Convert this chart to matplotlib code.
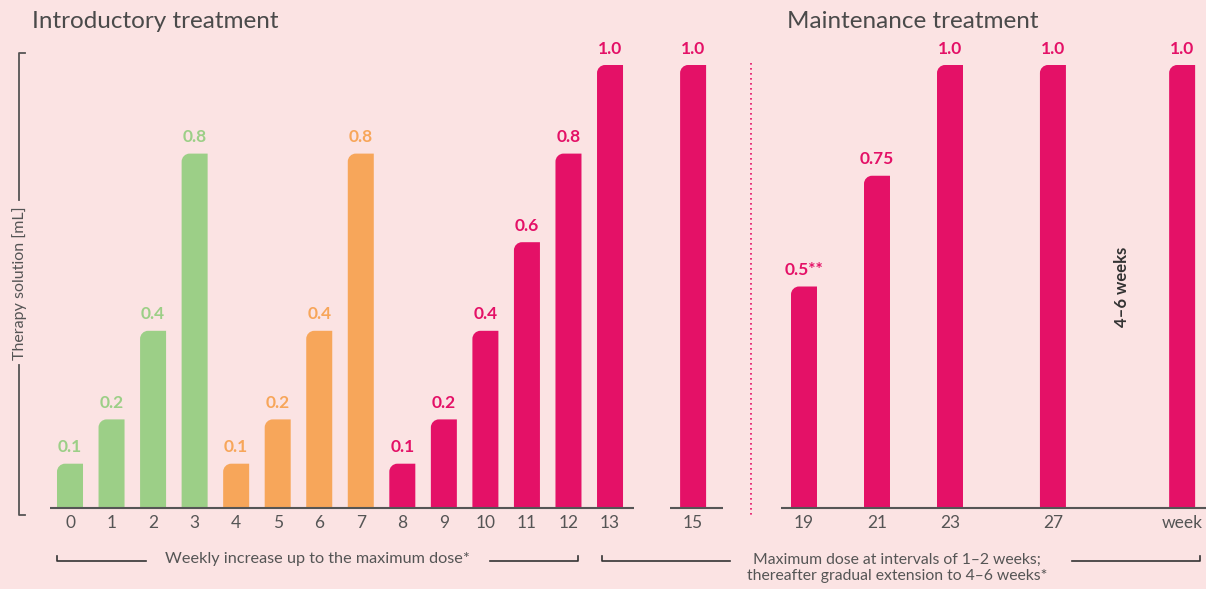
import matplotlib.pyplot as plt
import numpy as np
from matplotlib.path import Path
from matplotlib.patches import PathPatch
from matplotlib.lines import Line2D

# data
intro_weeks = [0, 1, 2, 3, 4, 5, 6, 7, 8, 9, 10, 11, 12, 13, 15]
intro_dose = [0.1, 0.2, 0.4, 0.8, 0.1, 0.2, 0.4, 0.8, 0.1, 0.2, 0.4, 0.6, 0.8, 1.0, 1.0]
intro_phase = ['g', 'g', 'g', 'g', 'o', 'o', 'o', 'o', 'm', 'm', 'm', 'm', 'm', 'm', 'm']
intro_labels = ['0.1', '0.2', '0.4', '0.8', '0.1', '0.2', '0.4', '0.8',
                '0.1', '0.2', '0.4', '0.6', '0.8', '1.0', '1.0']

maint_ticks = ['19', '21', '23', '27', 'week']
maint_dose = [0.5, 0.75, 1.0, 1.0, 1.0]
maint_labels = ['0.5**', '0.75', '1.0', '1.0', '1.0']
maint_slots = [0, 2, 4, 6.82, 10.36]   # horizontal slot of each bar

colors = {'g': '#9ccf87', 'o': '#f7a65a', 'm': '#e41167'}
BG = '#fbe3e3'
GREY = '#555555'

plt.rcParams['font.family'] = ['Lato', 'DejaVu Sans']

W, H = 1206, 589
fig = plt.figure(figsize=(W / 100, H / 100), dpi=100, facecolor=BG)


def px_axes(x0, x1, y0, y1):
    # axes from pixel box (top-left origin)
    return fig.add_axes([x0 / W, 1 - y1 / H, (x1 - x0) / W, (y1 - y0) / H])


def round_bars(ax, bars, r_px=8):
    # replace rectangles by bars with a rounded top-left corner
    sx, sy = ax.transData.transform((1, 1)) - ax.transData.transform((0, 0))
    rx, ry = r_px / sx, r_px / sy
    k = 0.5523
    for b in bars:
        x, y, w, h = b.get_x(), b.get_y(), b.get_width(), b.get_height()
        t = y + h
        verts = [(x, y), (x + w, y), (x + w, t), (x + rx, t),
                 (x + rx - k * rx, t), (x, t - ry + k * ry), (x, t - ry),
                 (x, y)]
        codes = [Path.MOVETO, Path.LINETO, Path.LINETO, Path.LINETO,
                 Path.CURVE4, Path.CURVE4, Path.CURVE4, Path.CLOSEPOLY]
        ax.add_patch(PathPatch(Path(verts, codes), fc=b.get_facecolor(),
                               ec='none'))
        b.set_visible(False)


def style(ax):
    ax.set_facecolor('none')
    for s in ax.spines.values():
        s.set_visible(False)
    ax.set_yticks([])
    ax.tick_params(axis='x', length=0, pad=5, labelsize=12.5, labelcolor=GREY)


# ---- introductory panel (axes bottom = baseline)
axL = px_axes(40, 740, 40, 508)
axL.set_xlim((40 - 70) / 41.54, (740 - 70) / 41.54)
axL.set_ylim(0, 468 / 443)
style(axL)
bars = axL.bar(intro_weeks, intro_dose, width=0.626,
               color=[colors[p] for p in intro_phase])
for xw, v, lab, p in zip(intro_weeks, intro_dose, intro_labels, intro_phase):
    axL.annotate(lab, (xw, v), xytext=(0, 6), textcoords='offset points',
                 ha='center', va='bottom', fontsize=12.5, fontweight='bold',
                 color=colors[p])
axL.hlines([0, 0], [-0.48, 14.44], [13.58, 15.72], color=GREY, lw=1.5,
           clip_on=False)
axL.set_xticks(intro_weeks, [str(w) for w in intro_weeks])

# ---- maintenance panel
axR = px_axes(760, 1206, 40, 508)
axR.set_xlim((760 - 804) / 36.5, (1206 - 804) / 36.5)
axR.set_ylim(0, 468 / 443)
style(axR)
bars2 = axR.bar(maint_slots, maint_dose, width=0.712, color=colors['m'])
for s, v, lab in zip(maint_slots, maint_dose, maint_labels):
    axR.annotate(lab, (s, v), xytext=(0, 6), textcoords='offset points',
                 ha='center', va='bottom', fontsize=12.5, fontweight='bold',
                 color=colors['m'])
axR.hlines(0, -0.63, 11.1, color=GREY, lw=1.5, clip_on=False)
axR.set_xticks(maint_slots, maint_ticks)
axR.text(8.7, 0.5, '4–6 weeks', rotation=90, ha='center', va='center',
         fontsize=12, fontweight='bold', color='#333333')

round_bars(axL, bars)
round_bars(axR, bars2)

# ---- titles and decorations (figure pixel coords)
def fx(x):
    return x / W


def fy(y):
    return 1 - y / H


def line(xs, ys, **kw):
    fig.add_artist(Line2D([fx(x) for x in xs], [fy(y) for y in ys],
                          transform=fig.transFigure, **kw))


fig.text(fx(32), fy(21), 'Introductory treatment', fontsize=17.5,
         color='#4a4a4a', va='center', ha='left')
fig.text(fx(787), fy(21), 'Maintenance treatment', fontsize=17.5,
         color='#4a4a4a', va='center', ha='left')

# y-axis bracket
line([25, 19, 19], [53, 53, 200], color=GREY, lw=1.3)
line([19, 19, 25], [365, 515, 515], color=GREY, lw=1.3)
fig.text(fx(20), fy(283), 'Therapy solution [mL]', rotation=90, fontsize=11.5,
         color=GREY, ha='center', va='center')

# separator
line([751, 751], [63, 515], color=colors['m'], lw=1.2, ls=(0, (1, 2)))

# bottom brackets
bk = dict(color='#333333', lw=1.2)
line([57, 57, 146], [556, 561, 561], **bk)
line([490, 578, 578], [561, 561, 556], **bk)
fig.text(fx(317), fy(559), 'Weekly increase up to the maximum dose*',
         fontsize=11.7, color=GREY, ha='center', va='center')
line([602, 602, 730], [556, 561, 561], **bk)
line([1072, 1200, 1200], [561, 561, 556], **bk)
fig.text(fx(897), fy(568),
         'Maximum dose at intervals of 1–2 weeks;\n'
         'thereafter gradual extension to 4–6 weeks*',
         fontsize=11.3, color=GREY, ha='center', va='center',
         linespacing=1.2)

fig.savefig('out.png', dpi=100, facecolor=BG)
